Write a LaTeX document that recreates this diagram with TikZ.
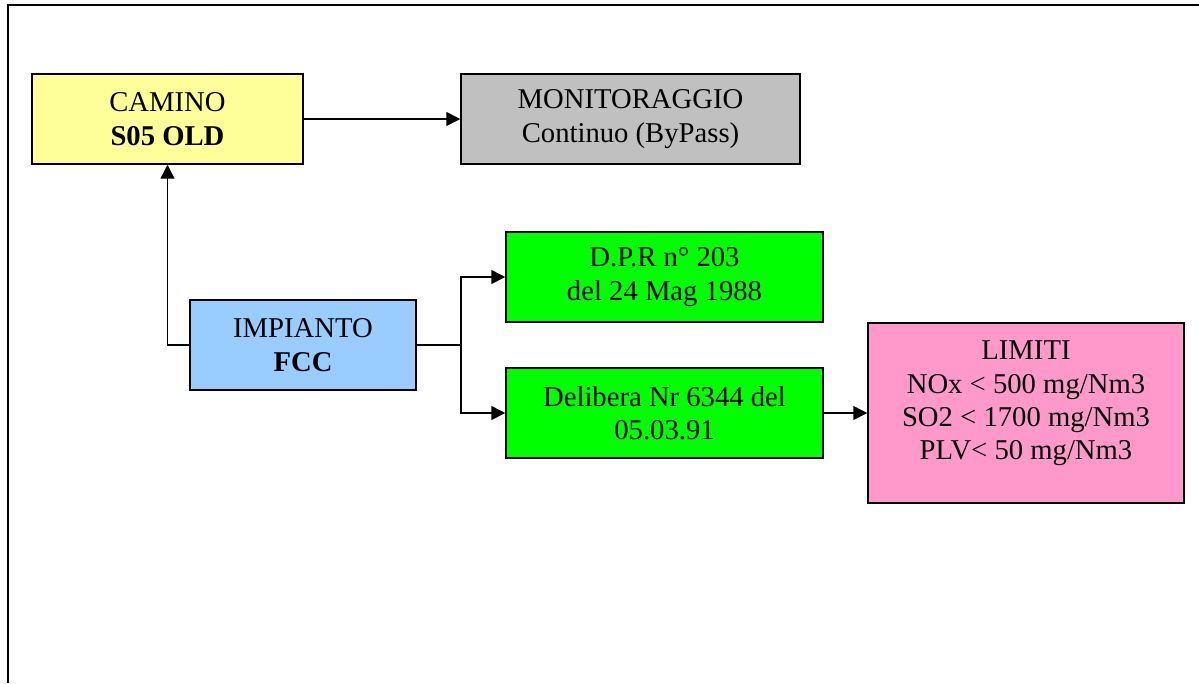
\documentclass[tikz,border=0pt]{standalone}
\usepackage{fontspec}
\setmainfont{Liberation Serif}
\usetikzlibrary{arrows.meta}
\definecolor{yel}{HTML}{FFFF99}
\definecolor{gry}{HTML}{C0C0C0}
\definecolor{blu}{HTML}{99CCFF}
\definecolor{grn}{HTML}{00FF00}
\definecolor{pnk}{HTML}{FF99CC}
\tikzset{
  box/.style={draw=black, line width=1.1pt, align=center, inner sep=0pt,
    font=\fontsize{21.5}{25}\selectfont, text=black},
  arr/.style={line width=1.1pt, -{Triangle[length=10.5pt,width=10.5pt]}},
  conn/.style={line width=1.1pt},
}
\begin{document}
\begin{tikzpicture}[x=0.75pt, y=-0.75pt]
\useasboundingbox (0,0) rectangle (1199,683);
\draw[line width=1.5pt] (8,683) -- (8,5) -- (1199,5);
\node[box, fill=yel, minimum width=271*0.75pt, minimum height=90*0.75pt] (cam) at (167.5,119) {CAMINO\\\textbf{S05 OLD}};
\node[box, fill=gry, minimum width=339*0.75pt, minimum height=90*0.75pt] (mon) at (630.5,119) {MONITORAGGIO\\Continuo (ByPass)};
\node[box, fill=blu, minimum width=226*0.75pt, minimum height=90*0.75pt] (imp) at (303,345) {IMPIANTO\\\textbf{FCC}};
\node[box, fill=grn, minimum width=317*0.75pt, minimum height=90*0.75pt] (dpr) at (664.5,277) {D.P.R n° 203\\del 24 Mag 1988};
\node[box, fill=grn, minimum width=317*0.75pt, minimum height=90*0.75pt] (del) at (664.5,413) {Delibera Nr 6344 del\\05.03.91};
\node[box, fill=pnk, minimum width=316*0.75pt, minimum height=180*0.75pt,
  label={[align=center, anchor=north, inner sep=0pt, yshift=-13.8pt, font=\fontsize{21.5}{25}\selectfont, text=black]north:{LIMITI\\NOx < 500 mg/Nm3\\SO2 < 1700 mg/Nm3\\PLV< 50 mg/Nm3}}] (lim) at (1026,413) {};
\coordinate (j) at (461,345);
\draw[arr] (cam.east) -- (mon.west);
\draw[arr] (imp.west) -| (cam.south);
\draw[conn] (imp.east) -- (j);
\draw[arr] (j) |- (dpr.west);
\draw[arr] (j) |- (del.west);
\draw[arr] (del.east) -- (lim.west);
\end{tikzpicture}
\end{document}
